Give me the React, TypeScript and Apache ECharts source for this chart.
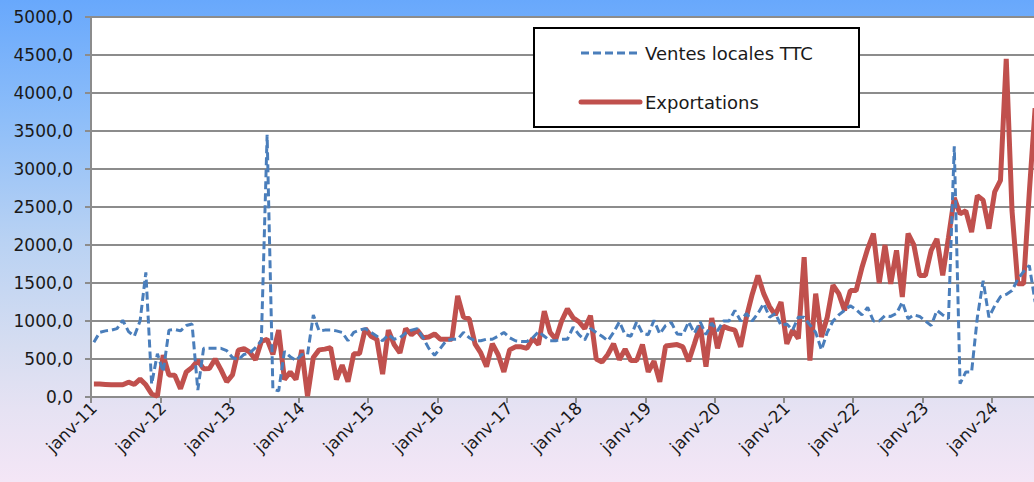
import React, { useEffect, useRef } from "react";
import * as echarts from "echarts";

const MONTHS = ["janv", "févr", "mars", "avr", "mai", "juin", "juil", "août", "sept", "oct", "nov", "déc"];
const START_YEAR = 2011;
const N_MONTHS = 164;

const categories: string[] = Array.from({ length: N_MONTHS }, (_, i) => {
  const y = START_YEAR + Math.floor(i / 12);
  return `${MONTHS[i % 12]}-${String(y % 100).padStart(2, "0")}`;
});

const yTicks = { min: 0, max: 5000, interval: 500 };

// Ventes locales TTC (monthly)
const ventesLocales: number[] = [
  720, 850, 870, 880, 900, 1010, 860, 800, 1000, 1640, 170, 570,
  330, 880, 890, 870, 940, 960, 90, 640, 640, 640, 640, 610,
  520, 490, 560, 580, 650, 740, 3450, 100, 80, 600, 530, 480,
  560, 560, 1080, 870, 880, 880, 870, 850, 740, 850, 880, 900,
  850, 800, 740, 820, 760, 780, 840, 880, 900, 780, 640, 550,
  640, 740, 760, 760, 850, 780, 740, 740, 760, 760, 800, 850,
  780, 740, 730, 730, 780, 860, 800, 740, 740, 760, 760, 920,
  820, 750, 900, 850, 800, 740, 850, 990, 820, 800, 990, 840,
  820, 1010, 830, 940, 980, 830, 820, 990, 840, 990, 820, 970,
  870, 1000, 1000, 1140, 1000, 1100, 1000, 1100, 1230, 1050, 1100, 940,
  960, 880, 1050, 1050, 950, 850, 620, 850, 1000, 1080, 1140, 1200,
  1150, 1080, 1180, 1000, 1000, 1070, 1060, 1100, 1250, 1030, 1080, 1060,
  1000, 940, 1140, 1080, 1030, 3300, 175, 330, 330, 1050, 1530, 1050,
  1200, 1320, 1350, 1400, 1550, 1650, 1730, 1250,
];

// Exportations (monthly)
const exportations: number[] = [
  170, 170, 165, 160, 160, 160, 195, 165, 235, 160, 40, 10,
  550, 290, 285, 110, 330, 390, 480, 370, 375, 500, 360, 200,
  290, 615, 635, 590, 490, 730, 760, 560, 880, 230, 330, 230,
  620, 10, 520, 620, 630, 650, 230, 420, 200, 570, 570, 900,
  800, 760, 300, 880, 690, 580, 900, 820, 880, 780, 790, 830,
  760, 760, 760, 1330, 1050, 1030, 700, 580, 400, 700, 560, 330,
  620, 660, 660, 640, 770, 690, 1130, 850, 760, 1000, 1160, 1040,
  990, 900, 1070, 500, 460, 560, 700, 490, 630, 480, 480, 690,
  330, 470, 200, 670, 680, 690, 660, 470, 700, 940, 400, 1040,
  640, 930, 900, 880, 660, 1050, 1350, 1600, 1360, 1190, 1080, 1250,
  700, 880, 770, 1840, 480, 1360, 790, 1050, 1470, 1360, 1140, 1400,
  1400, 1700, 1950, 2150, 1500, 2000, 1490, 1930, 1315, 2150, 2000, 1600,
  1600, 1930, 2080, 1600, 2100, 2620, 2410, 2450, 2170, 2650, 2590, 2215,
  2700, 2850, 4450, 2450, 1490, 1490, 2700, 3800,
];

const SERIES_NAMES = ["Ventes locales TTC", "Exportations"];
const BLUE = "#4a7ebb";
const RED = "#c0504d";
const FONT = "DejaVu Sans";

export default function App() {
  const ref = useRef<HTMLDivElement>(null);

  useEffect(() => {
    if (!ref.current) return;
    const chart = echarts.init(ref.current, undefined, { renderer: "svg" });
    chart.setOption({
      animation: false,
      backgroundColor: "transparent",
      grid: {
        left: 91,
        top: 17,
        width: 947,
        height: 380,
        show: true,
        backgroundColor: "#ffffff",
        borderWidth: 0,
      },
      xAxis: {
        type: "category",
        data: categories,
        boundaryGap: true,
        axisLine: { show: true, lineStyle: { color: "#8c8c8c", width: 2 } },
        axisTick: { show: true, interval: 11, length: 6, lineStyle: { color: "#8c8c8c", width: 2 } },
        axisLabel: {
          interval: 11,
          rotate: 45,
          margin: 8,
          fontSize: 17,
          fontFamily: FONT,
          color: "#1a1a1a",
        },
        splitLine: { show: false },
      },
      yAxis: {
        type: "value",
        min: yTicks.min,
        max: yTicks.max,
        interval: yTicks.interval,
        axisLine: { show: true, lineStyle: { color: "#8c8c8c", width: 2 } },
        axisTick: { show: true, length: 6, lineStyle: { color: "#8c8c8c", width: 2 } },
        axisLabel: {
          margin: 18,
          fontSize: 17,
          fontFamily: FONT,
          color: "#1a1a1a",
          formatter: (v: number) => v.toFixed(1).replace(".", ","),
        },
        splitLine: { show: true, lineStyle: { color: "#8c8c8c", width: 2 } },
      },
      series: [
        {
          name: SERIES_NAMES[0],
          type: "line",
          data: ventesLocales,
          symbol: "none",
          lineStyle: { color: BLUE, width: 3, type: [8, 4] },
          z: 3,
        },
        {
          name: SERIES_NAMES[1],
          type: "line",
          data: exportations,
          symbol: "none",
          lineStyle: { color: RED, width: 5 },
          z: 2,
        },
      ],
      graphic: {
        elements: [
          {
            type: "rect",
            z: 100,
            silent: true,
            shape: { x: 534, y: 28, width: 325, height: 99 },
            style: { fill: "#ffffff", stroke: "#000000", lineWidth: 2 },
          },
          {
            type: "line",
            z: 101,
            silent: true,
            shape: { x1: 581, y1: 53, x2: 640, y2: 53 },
            style: { stroke: BLUE, lineWidth: 3, lineDash: [8, 4] },
          },
          {
            type: "text",
            z: 101,
            silent: true,
            x: 645,
            y: 53,
            style: {
              text: SERIES_NAMES[0],
              fontSize: 18,
              fontFamily: FONT,
              fill: "#1a1a1a",
              verticalAlign: "middle",
            },
          },
          {
            type: "line",
            z: 101,
            silent: true,
            shape: { x1: 581, y1: 102, x2: 640, y2: 102 },
            style: { stroke: RED, lineWidth: 5, lineCap: "round" },
          },
          {
            type: "text",
            z: 101,
            silent: true,
            x: 645,
            y: 102,
            style: {
              text: SERIES_NAMES[1],
              fontSize: 18,
              fontFamily: FONT,
              fill: "#1a1a1a",
              verticalAlign: "middle",
            },
          },
        ],
      },
    });
    return () => chart.dispose();
  }, []);

  return (
    <div
      ref={ref}
      style={{
        position: "fixed",
        left: 0,
        top: 0,
        width: 1040,
        height: 482,
        background:
          "linear-gradient(to bottom, #68a8fc 0%, #8ebef9 25%, #b9d2f3 50%, #d6ddf1 72%, #e6e2f3 85%, #f4e6f6 100%)",
      }}
    />
  );
}
